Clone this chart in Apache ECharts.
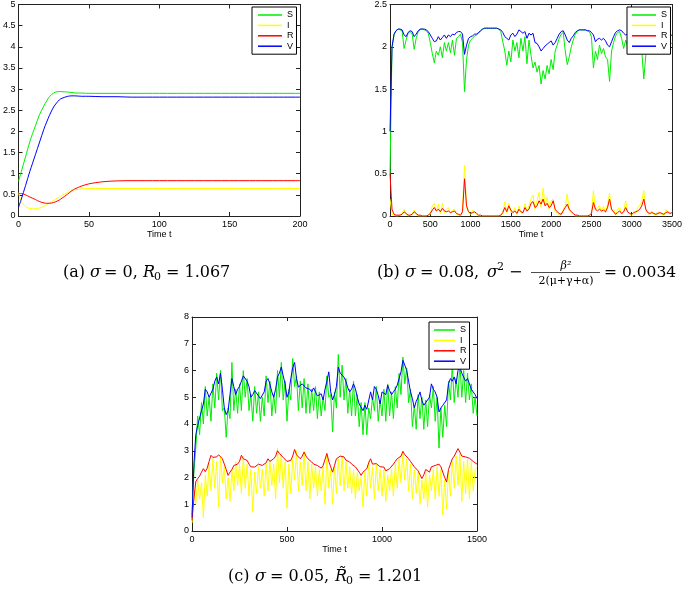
<!DOCTYPE html>
<html>
<head>
<meta charset="utf-8">
<script src="https://cdn.jsdelivr.net/npm/echarts@6/dist/echarts.min.js"></script>
<style>
html,body{margin:0;padding:0;background:#fff;}
#chart{width:685px;height:597px;}
</style>
</head>
<body>
<div id="chart"></div>
<script>
// ---------- Panel (a): sigma = 0 ----------
const timeA = [0,2,5,8,10,12,15,18,20,22,25,28,30,35,38,40,45,50,60,70,80,100,150,200];
const sA = [0.82,1.05,1.4,1.75,1.95,2.13,2.4,2.6,2.72,2.82,2.91,2.94,2.94,2.93,2.92,2.91,2.905,2.9,2.9,2.9,2.9,2.9,2.9,2.9];
const iA = [0.55,0.35,0.22,0.18,0.17,0.17,0.19,0.23,0.27,0.31,0.37,0.43,0.47,0.56,0.6,0.62,0.64,0.65,0.65,0.65,0.65,0.65,0.65,0.65];
const rA = [0.53,0.53,0.5,0.45,0.42,0.39,0.34,0.31,0.3,0.3,0.32,0.36,0.4,0.52,0.6,0.64,0.71,0.76,0.81,0.83,0.835,0.835,0.835,0.835];
const vA = [0.2,0.4,0.72,1.05,1.25,1.45,1.75,2.05,2.22,2.38,2.58,2.71,2.77,2.83,2.84,2.84,2.83,2.83,2.82,2.82,2.81,2.81,2.81,2.81];

// ---------- Panel (b): sigma = 0.08, sampled every 25 time units ----------
const stepB = 25;
const sB = [
0.5,1.98,2.14,2.19,2.21,2.2,2.19,1.98,2.08,2.16,2.18,2.15,1.97,2.1,2.18,2.2,2.21,2.2,2.19,2.16,
2.05,1.92,1.81,1.95,1.9,2.0,1.87,2.05,1.95,2.05,1.93,2.08,1.9,2.1,2.12,2.15,2.05,1.47,1.85,2.02,
2.08,2.1,2.13,2.14,2.16,2.19,2.21,2.22,2.22,2.22,2.22,2.22,2.22,2.22,2.21,2.18,2.06,1.95,1.78,1.95,
1.82,2.08,1.95,2.05,1.87,2.1,1.95,2.12,1.8,2.08,1.9,1.75,1.82,1.7,1.78,1.56,1.72,1.62,1.78,1.68,
1.85,1.73,1.95,2.02,2.1,2.15,2.17,1.95,1.79,1.88,2.0,2.08,2.15,2.18,2.2,2.2,2.2,2.2,2.19,2.18,
2.12,1.75,1.95,1.85,2.02,1.92,1.98,1.88,1.85,1.59,1.95,2.05,2.13,2.17,2.18,2.1,1.98,2.08,2.0,2.05,
2.08,2.05,2.1,2.12,2.05,1.95,1.62,1.9,2.08,2.05,2.1,2.12,2.08,2.05,2.1,2.08,2.02,2.05,2.08,2.02,2.05];
const iB = [
0.2,0.02,0.01,0,0,0.01,0.03,0.08,0.02,0,0.01,0.02,0.07,0.02,0,0,0,0,0,0.01,
0.02,0.12,0.15,0.05,0.14,0.03,0.15,0.04,0.08,0.1,0.03,0.07,0.08,0.02,0.01,0,0.07,0.6,0.1,0.04,
0.02,0.07,0.04,0.02,0,0,0,0,0,0,0,0,0,0,0,0,0.03,0.17,0.04,0.15,
0.05,0.03,0.1,0.02,0.12,0.04,0.03,0.15,0.05,0.12,0.2,0.25,0.08,0.18,0.28,0.1,0.33,0.12,0.22,0.08,
0.18,0.2,0.05,0.03,0.02,0.01,0.08,0.12,0.26,0.06,0.04,0.02,0,0,0,0,0,0,0,0,
0.03,0.3,0.06,0.1,0.12,0.05,0.12,0.04,0.14,0.27,0.06,0.08,0.01,0.08,0.1,0.02,0.05,0.18,0.04,0.02,
0.01,0.05,0.03,0.1,0.12,0.18,0.3,0.06,0.03,0.02,0.06,0.02,0.01,0.05,0.03,0.02,0.01,0.08,0.04,0.02,0.05];
const rB = [
0.5,0.08,0.02,0.01,0.01,0.01,0.02,0.05,0.03,0.01,0.01,0.02,0.05,0.03,0.01,0.01,0,0,0,0.01,
0.03,0.07,0.1,0.06,0.08,0.05,0.09,0.06,0.05,0.06,0.04,0.05,0.06,0.03,0.02,0.01,0.05,0.44,0.12,0.05,
0.03,0.04,0.05,0.03,0.01,0.01,0,0,0,0,0,0,0,0,0,0.01,0.04,0.1,0.05,0.12,
0.07,0.04,0.06,0.03,0.08,0.05,0.04,0.1,0.06,0.08,0.15,0.17,0.1,0.12,0.18,0.14,0.2,0.12,0.15,0.1,
0.12,0.18,0.08,0.05,0.03,0.02,0.06,0.1,0.14,0.08,0.05,0.03,0.01,0.01,0,0,0,0,0,0.01,
0.03,0.16,0.08,0.06,0.08,0.06,0.07,0.05,0.1,0.2,0.08,0.05,0.02,0.04,0.06,0.03,0.05,0.1,0.05,0.03,
0.02,0.04,0.05,0.06,0.08,0.12,0.2,0.08,0.04,0.03,0.04,0.03,0.02,0.03,0.04,0.03,0.02,0.04,0.05,0.03,0.04];
const vB = [
1.0,2.0,2.15,2.19,2.21,2.21,2.2,2.14,2.12,2.17,2.19,2.18,2.12,2.15,2.19,2.21,2.21,2.21,2.2,2.18,
2.14,2.1,2.06,2.07,2.12,2.08,2.11,2.14,2.1,2.14,2.12,2.15,2.14,2.17,2.18,2.18,2.15,1.91,2.02,2.1,
2.12,2.13,2.15,2.15,2.17,2.19,2.21,2.22,2.22,2.22,2.22,2.22,2.22,2.22,2.21,2.2,2.17,2.12,2.1,2.08,
2.14,2.16,2.12,2.15,2.2,2.18,2.16,2.18,2.1,2.16,2.14,2.16,2.05,2.04,2.0,1.95,1.98,2.01,2.03,2.05,
2.07,2.02,2.05,2.1,2.15,2.18,2.19,2.14,2.08,2.05,2.1,2.13,2.17,2.19,2.2,2.2,2.2,2.2,2.19,2.19,
2.17,2.14,2.06,2.09,2.1,2.08,2.1,2.07,2.02,2.0,2.06,2.12,2.17,2.19,2.2,2.19,2.16,2.14,2.15,2.16,
2.14,2.13,2.15,2.16,2.14,2.12,2.13,2.15,2.15,2.14,2.15,2.16,2.14,2.13,2.14,2.15,2.14,2.13,2.14,2.13,2.14];

// ---------- Panel (c): sigma = 0.05, sampled every 10 time units ----------
const stepC = 10;
const sC = [
0.6,2.2,3.1,4.3,3.6,4.8,4.0,5.4,4.3,5.0,
4.1,5.5,4.6,5.9,4.9,6.0,4.5,4.6,3.5,4.6,
4.2,6.3,4.5,5.3,4.4,5.5,4.5,6.0,5.0,5.7,
4.5,5.1,4.1,5.4,4.4,5.2,4.1,5.0,4.3,5.8,
4.8,5.6,4.3,5.1,4.4,6.0,5.0,6.3,4.9,5.6,
4.1,5.3,4.9,6.45,5.4,5.8,4.5,5.6,4.6,5.7,
4.4,5.5,4.4,5.3,4.5,5.4,4.2,5.2,4.3,5.0,
4.5,5.8,5.0,5.1,3.7,5.2,4.6,6.6,5.0,6.2,
4.9,5.7,4.4,5.3,4.3,5.6,4.3,5.1,3.9,4.8,
3.6,4.8,3.6,4.6,4.2,5.0,4.5,5.4,4.1,4.9,
4.3,5.3,4.1,5.5,4.3,5.2,4.2,5.4,4.6,5.9,
5.1,6.5,5.5,6.1,4.8,5.3,3.9,4.7,3.8,5.1,
4.2,5.0,3.8,4.9,3.9,5.1,4.6,5.4,4.1,5.0,
3.1,4.6,3.5,4.7,3.9,5.6,4.9,6.2,4.8,5.7,
5.0,6.3,5.0,6.0,4.8,5.9,4.9,5.5,4.4,5.0,
4.3];
const iC = [
0.3,1.5,1.0,1.9,1.2,1.8,0.5,2.1,1.3,2.5,
1.5,2.7,1.6,2.6,0.9,2.8,1.8,2.4,1.2,2.0,
1.1,2.3,1.5,2.6,1.7,2.5,1.4,2.8,1.6,2.5,
1.3,2.3,0.7,2.2,1.4,2.4,1.6,2.3,1.3,2.5,
1.5,2.6,1.7,2.5,1.2,3.1,1.8,2.9,1.6,2.6,
0.85,2.5,1.4,2.7,1.9,3.0,1.5,2.6,1.7,3.0,
1.5,2.6,1.2,2.5,1.6,2.4,1.3,2.3,1.5,2.4,
1.0,2.8,1.6,2.3,1.0,2.4,1.4,2.7,1.7,2.8,
1.5,2.6,1.6,2.4,1.4,2.3,1.2,2.2,1.5,2.0,
0.9,2.2,1.3,2.6,1.6,2.4,1.2,2.5,1.5,2.3,
1.3,2.3,1.1,2.1,1.5,2.3,1.3,2.5,1.6,2.7,
1.8,2.9,1.9,2.7,1.5,2.5,1.2,2.3,1.4,2.2,
1.0,1.9,1.2,2.2,0.9,2.1,1.5,2.3,1.2,2.4,
1.3,2.3,0.6,1.9,0.8,2.2,1.3,2.6,1.6,2.8,
1.7,2.9,1.1,2.6,1.4,2.7,1.2,2.6,1.5,2.3,
2.4];
const rC = [
0.4,1.2,1.85,1.96,2.05,2.2,2.33,2.22,2.35,2.6,
2.83,2.75,2.7,2.77,2.85,2.9,2.7,2.5,2.3,2.08,
2.2,2.3,2.45,2.52,2.5,2.6,2.83,2.7,2.65,2.64,
2.5,2.4,2.45,2.39,2.45,2.5,2.52,2.45,2.4,2.55,
2.7,2.6,2.65,2.7,2.8,3.0,2.9,2.85,2.75,2.7,
2.6,2.55,2.64,2.8,3.05,2.85,2.8,2.7,2.8,2.95,
2.8,2.7,2.65,2.58,2.5,2.55,2.45,2.4,2.35,2.45,
2.52,2.9,2.6,2.4,2.2,2.45,2.7,2.75,2.8,2.77,
2.77,2.65,2.6,2.58,2.5,2.45,2.4,2.33,2.2,2.08,
2.2,2.25,2.33,2.55,2.7,2.5,2.45,2.52,2.48,2.4,
2.45,2.39,2.25,2.2,2.33,2.4,2.5,2.6,2.7,2.75,
2.8,2.98,2.85,2.8,2.7,2.6,2.5,2.4,2.33,2.25,
2.2,1.96,2.1,2.3,2.25,2.2,2.4,2.35,2.45,2.48,
2.5,2.4,2.33,2.0,1.83,2.3,2.5,2.7,2.8,2.85,
3.08,2.95,2.8,2.75,2.77,2.7,2.72,2.7,2.6,2.55,
2.5];
const vC = [
0.5,2.5,3.6,3.95,4.0,4.5,4.75,5.3,5.2,5.0,
4.95,5.3,5.6,5.76,5.5,5.9,5.3,4.6,4.35,4.5,
5.1,5.7,5.4,5.1,5.3,5.4,5.35,5.8,5.85,5.6,
5.4,5.0,5.1,5.25,5.32,5.05,4.95,4.9,5.2,5.6,
5.7,5.5,5.2,5.0,5.3,5.76,5.9,6.13,5.8,5.5,
5.0,5.2,5.7,6.1,6.3,5.7,5.38,5.45,5.5,5.5,
5.35,5.4,5.3,5.2,5.35,5.3,5.05,5.1,5.13,4.9,
5.3,5.6,5.95,5.2,4.9,5.1,5.4,6.13,5.9,5.94,
5.75,5.6,5.35,5.2,5.3,5.5,5.32,5.0,4.75,4.7,
4.5,4.7,4.55,4.5,5.2,4.9,5.4,5.3,5.07,4.75,
5.2,5.15,5.1,5.45,5.25,5.1,5.2,5.3,5.45,5.7,
5.95,6.38,6.2,6.0,5.6,5.2,4.95,4.6,4.85,5.0,
5.2,4.88,4.7,4.8,4.76,5.0,5.5,5.3,5.2,5.0,
4.45,4.6,4.7,4.63,4.9,5.5,5.7,5.6,5.76,5.5,
6.0,6.13,5.9,5.85,5.6,5.7,5.76,5.3,5.2,5.1,
4.95];

const names = ['S','I','R','V'];
const colors = ['#00ee00','#ffff00','#ff0000','#0000ff'];

function pairs(times, vals){ return vals.map((v,i)=>[times[i], v]); }
function grid(n, step){ const t=[]; for(let i=0;i<n;i++) t.push(i*step); return t; }
const timeB = grid(vB.length, stepB);
const timeC = grid(vC.length, stepC);

const FONT = '"Liberation Sans", Arial, sans-serif';
const SERIF = '"DejaVu Serif", "Liberation Serif", serif';
const AX = '#222';

function xAxes(gi, max, interval, showLabel, pos){
  return {
    type:'value', gridIndex: gi, min: 0, max: max, interval: interval, position: pos,
    name: showLabel ? 'Time t' : '', nameLocation:'middle', nameGap: 11,
    nameTextStyle:{fontSize:9, fontFamily:FONT, color:'#000'},
    axisLine:{show:true, onZero:false, lineStyle:{color:AX, width:1}},
    axisTick:{show:true, inside:true, length:4, lineStyle:{color:AX}},
    axisLabel:{show:showLabel, fontSize:9, fontFamily:FONT, color:'#000', margin:4, formatter: v => String(v)},
    splitLine:{show:false}
  };
}
function yAxes(gi, max, interval, showLabel, pos){
  return {
    type:'value', gridIndex: gi, min: 0, max: max, interval: interval, position: pos,
    axisLine:{show:true, onZero:false, lineStyle:{color:AX, width:1}},
    axisTick:{show:true, inside:true, length:4, lineStyle:{color:AX}},
    axisLabel:{show:showLabel, fontSize:9, fontFamily:FONT, color:'#000', margin:3, formatter: v => String(v)},
    splitLine:{show:false}
  };
}

const panels = [
  {t: timeA, vals:[sA,iA,rA,vA]},
  {t: timeB, vals:[sB,iB,rB,vB]},
  {t: timeC, vals:[sC,iC,rC,vC]}
];
const series = [];
panels.forEach((p, gi)=>{
  p.vals.forEach((vals, k)=>{
    series.push({
      type:'line', name: names[k], xAxisIndex: gi, yAxisIndex: gi,
      data: pairs(p.t, vals), symbol:'none', showSymbol:false, animation:false,
      lineStyle:{color: colors[k], width:1}, itemStyle:{color: colors[k]},
      smooth: gi===0 ? 0.3 : false
    });
  });
});

function legend(left, top, iw, padL){
  return {
    orient:'vertical', left:left, top:top, selectedMode:false,
    data: names.map(n => ({name:n, icon:'rect'})),
    backgroundColor:'#fff', borderColor:'#000', borderWidth:1, borderRadius:0,
    padding:[3,3,3,padL], itemWidth: iw, itemHeight: 1.5, itemGap: 0.4,
    textStyle:{fontSize:9, fontFamily:FONT, color:'#000', lineHeight:10}
  };
}

function txt(x, y, s, size, italic){
  return {type:'text', x:x, y:y, style:{text:s, fontSize:size||16, fontFamily:SERIF,
    fontStyle: italic ? 'italic' : 'normal', fill:'#000', textVerticalAlign:'middle'}};
}
const CY = 273, CY3 = 577;

const option = {
  backgroundColor:'#fff',
  animation:false,
  grid:[
    {left:14, top:3, width:286, height:213},
    {left:390, top:3, width:283, height:213},
    {left:192, top:317, width:285, height:214}
  ],
  xAxis:[
    xAxes(0,200,50,true,'bottom'), xAxes(1,3500,500,true,'bottom'), xAxes(2,1500,500,true,'bottom'),
    xAxes(0,200,50,false,'top'), xAxes(1,3500,500,false,'top'), xAxes(2,1500,500,false,'top')
  ],
  yAxis:[
    yAxes(0,5,0.5,true,'left'), yAxes(1,2.5,0.5,true,'left'), yAxes(2,8,1,true,'left'),
    yAxes(0,5,0.5,false,'right'), yAxes(1,2.5,0.5,false,'right'), yAxes(2,8,1,false,'right')
  ],
  legend:[ legend(252,7,24,6), legend(627,7,24,5), legend(429,322,21,5) ],
  series: series,
  graphic:[
    // (a)
    txt(63, CY, '(a)'), txt(90, CY, 'σ', 16, true), txt(104, CY, '= 0,'),
    txt(143, CY, 'R', 16, true), txt(154, CY+4, '0', 11), txt(166, CY, '= 1.067'),
    // (b)
    txt(377, CY, '(b)'), txt(405, CY, 'σ', 16, true), txt(420, CY, '= 0.08,'),
    txt(487, CY, 'σ', 16, true), txt(497, CY-6, '2', 11), txt(509, CY, '−'),
    {type:'text', x:566, y:CY-7, style:{text:'β²', fontSize:11, fontFamily:SERIF, fontStyle:'italic', fill:'#000', textAlign:'center', textVerticalAlign:'middle'}},
    {type:'line', shape:{x1:531, y1:CY-0.5, x2:600, y2:CY-0.5}, style:{stroke:'#000', lineWidth:0.7}},
    {type:'text', x:566, y:CY+8, style:{text:'2(μ+γ+α)', fontSize:11, fontFamily:SERIF, fill:'#000', textAlign:'center', textVerticalAlign:'middle'}},
    txt(604, CY, '= 0.0034', 15.5),
    // (c)
    txt(228, CY3, '(c)'), txt(255, CY3, 'σ', 16, true), txt(270, CY3, '= 0.05,'),
    txt(335, CY3, 'R̃', 16, true), txt(346, CY3+4, '0', 11), txt(358, CY3, '= 1.201')
  ]
};
const chart = echarts.init(document.getElementById('chart'), null, {renderer:'canvas'});
chart.setOption(option);
</script>
</body>
</html>
